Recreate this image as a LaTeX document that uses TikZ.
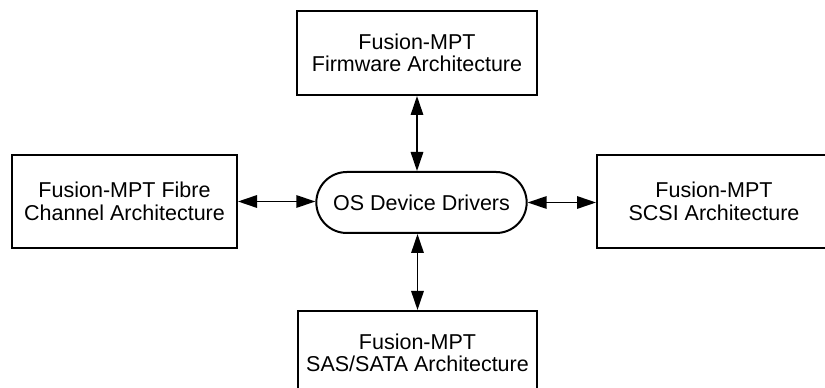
\documentclass[tikz,border=0pt]{standalone}
\usepackage{fontspec}
\setmainfont{Liberation Sans}
\usepackage{tikz}
\usetikzlibrary{arrows.meta, shapes.misc, positioning, calc}
\tikzstyle{archbox} = [draw, line width=2pt, align=center, font=\fontsize{21.5pt}{22.5pt}\selectfont]
\tikzstyle{arrow} = [line width=1.5pt, {Triangle[length=19pt,width=12.5pt]}-{Triangle[length=19pt,width=12.5pt]}]

\begin{document}
\begin{tikzpicture}[x=1pt, y=1pt]
            \useasboundingbox (0,0) rectangle (825,388);
            \node[rounded rectangle, draw, line width=2pt, minimum width=217pt, minimum height=61pt, font=\fontsize{21.5pt}{22.5pt}\selectfont] (drivers) at (421.5,185.5) {OS Device Drivers};

            \node[archbox, minimum width=240pt, minimum height=84pt] (firmware) at (417,335) {Fusion-MPT\\Firmware Architecture};
            \node[archbox, minimum width=225pt, minimum height=93pt] (fibre) at (124.5,186.5) {Fusion-MPT Fibre\\Channel Architecture};
            \node[archbox, minimum width=234pt, minimum height=93pt] (scsi) at (714,186.5) {Fusion-MPT\\SCSI Architecture};
            \node[archbox, minimum width=239pt, minimum height=84pt] (sas) at (417.5,35) {Fusion-MPT\\SAS/SATA Architecture};

            \draw[arrow] (firmware.south) -- (firmware.south |- drivers.north);
            \draw[arrow] (sas.north) -- (sas.north |- drivers.south);
            \draw[arrow] (fibre.east) -- (fibre.east -| drivers.west);
            \draw[arrow] (drivers.east) -- (drivers.east -| scsi.west);
        \end{tikzpicture}
\end{document}
